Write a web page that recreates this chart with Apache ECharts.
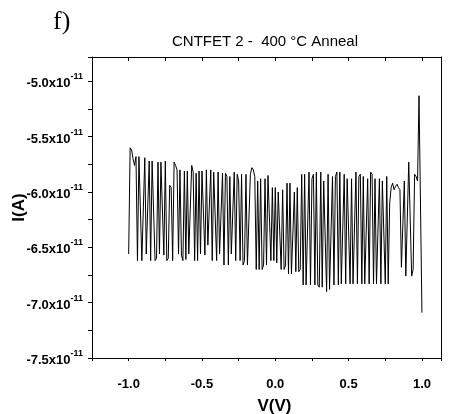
<!DOCTYPE html>
<html>
<head>
<meta charset="utf-8">
<script src="https://cdn.jsdelivr.net/npm/echarts@6/dist/echarts.min.js"></script>
<style>
  html, body { margin: 0; padding: 0; background: #fff; }
  #chart { width: 450px; height: 414px; }
</style>
</head>
<body>
<div id="chart"></div>
<script>
// Gate voltage sweep (V), 0.01 V steps
const voltage = [
  -1.00, -0.99, -0.98, -0.97, -0.96, -0.95, -0.94, -0.93, -0.92, -0.91,
  -0.90, -0.89, -0.88, -0.87, -0.86, -0.85, -0.84, -0.83, -0.82, -0.81,
  -0.80, -0.79, -0.78, -0.77, -0.76, -0.75, -0.74, -0.73, -0.72, -0.71,
  -0.70, -0.69, -0.68, -0.67, -0.66, -0.65, -0.64, -0.63, -0.62, -0.61,
  -0.60, -0.59, -0.58, -0.57, -0.56, -0.55, -0.54, -0.53, -0.52, -0.51,
  -0.50, -0.49, -0.48, -0.47, -0.46, -0.45, -0.44, -0.43, -0.42, -0.41,
  -0.40, -0.39, -0.38, -0.37, -0.36, -0.35, -0.34, -0.33, -0.32, -0.31,
  -0.30, -0.29, -0.28, -0.27, -0.26, -0.25, -0.24, -0.23, -0.22, -0.21,
  -0.20, -0.19, -0.18, -0.17, -0.16, -0.15, -0.14, -0.13, -0.12, -0.11,
  -0.10, -0.09, -0.08, -0.07, -0.06, -0.05, -0.04, -0.03, -0.02, -0.01,
   0.00,  0.01,  0.02,  0.03,  0.04,  0.05,  0.06,  0.07,  0.08,  0.09,
   0.10,  0.11,  0.12,  0.13,  0.14,  0.15,  0.16,  0.17,  0.18,  0.19,
   0.20,  0.21,  0.22,  0.23,  0.24,  0.25,  0.26,  0.27,  0.28,  0.29,
   0.30,  0.31,  0.32,  0.33,  0.34,  0.35,  0.36,  0.37,  0.38,  0.39,
   0.40,  0.41,  0.42,  0.43,  0.44,  0.45,  0.46,  0.47,  0.48,  0.49,
   0.50,  0.51,  0.52,  0.53,  0.54,  0.55,  0.56,  0.57,  0.58,  0.59,
   0.60,  0.61,  0.62,  0.63,  0.64,  0.65,  0.66,  0.67,  0.68,  0.69,
   0.70,  0.71,  0.72,  0.73,  0.74,  0.75,  0.76,  0.77,  0.78,  0.79,
   0.80,  0.81,  0.82,  0.83,  0.84,  0.85,  0.86,  0.87,  0.88,  0.89,
   0.90,  0.91,  0.92,  0.93,  0.94,  0.95,  0.96,  0.97,  0.98,  0.99,
   1.00
];

// Drain current, in units of 1e-11 A
const currentE11 = [
  -6.56, -5.60, -5.62, -5.70, -5.76, -5.68, -6.62, -5.68, -5.69, -6.62,
  -6.61, -5.69, -6.56, -6.57, -5.72, -6.62, -5.72, -5.73, -6.62, -6.60,
  -5.73, -6.56, -5.73, -5.72, -6.57, -5.72, -6.62, -6.60, -5.94, -5.96,
  -6.62, -5.73, -5.76, -5.80, -6.56, -5.80, -6.57, -6.62, -5.81, -6.61,
  -5.81, -6.56, -6.56, -5.76, -5.82, -6.62, -5.83, -6.62, -5.81, -6.56,
  -5.81, -5.81, -6.57, -5.80, -6.48, -6.47, -5.80, -6.62, -5.82, -5.82,
  -6.62, -5.82, -6.56, -6.56, -5.83, -6.66, -5.83, -5.86, -6.66, -5.86,
  -6.56, -6.56, -5.82, -6.62, -5.84, -5.90, -6.62, -5.84, -6.66, -6.62,
  -5.84, -6.66, -6.66, -5.84, -5.78, -5.80, -5.86, -6.70, -5.90, -6.70,
  -5.88, -6.70, -6.66, -5.88, -6.66, -5.85, -5.85, -6.62, -5.96, -6.62,
  -5.96, -6.64, -6.00, -6.00, -6.70, -5.98, -6.70, -6.66, -5.92, -6.74,
  -5.92, -6.74, -6.74, -6.00, -6.72, -5.96, -6.72, -6.70, -5.84, -6.84,
  -5.84, -6.84, -6.84, -5.82, -6.84, -5.88, -5.84, -6.84, -5.82, -6.84,
  -6.86, -5.82, -6.86, -5.90, -5.90, -6.90, -5.84, -6.88, -6.88, -5.86,
  -6.84, -5.86, -5.82, -6.84, -5.82, -6.83, -6.83, -5.84, -6.83, -5.88,
  -5.88, -6.83, -5.88, -6.83, -6.83, -5.82, -6.83, -5.86, -5.84, -6.83,
  -5.86, -6.83, -6.83, -5.88, -6.83, -5.82, -5.84, -6.83, -5.88, -6.83,
  -6.83, -5.88, -6.83, -5.90, -5.90, -6.83, -5.86, -6.83, -6.10, -5.96,
  -5.92, -5.98, -5.95, -5.93, -5.96, -5.98, -6.68, -6.68, -5.90, -6.76,
  -6.76, -5.73, -5.73, -6.76, -6.70, -5.84, -5.86, -5.90, -5.13, -6.10,
  -7.09
];

// Axis ranges and labelled ticks
const xRange = [-1.25, 1.13];
const yRange = [-7.5, -4.78];
const xTickLabels = [-1.0, -0.5, 0.0, 0.5, 1.0];
const yTickLabels = [-7.5, -7.0, -6.5, -6.0, -5.5, -5.0];

const isLabelled = (list, v) => list.some(t => Math.abs(t - v) < 1e-6);

const chart = echarts.init(document.getElementById('chart'), null, { renderer: 'canvas' });

const black = '#000';
const sans = 'Liberation Sans, Arial, sans-serif';

const frameAxis = {
  axisLine: { show: true, onZero: false, lineStyle: { color: black, width: 1 } },
  axisLabel: { show: false },
  splitLine: { show: false }
};

chart.setOption({
  animation: false,
  backgroundColor: '#fff',
  grid: { left: 92, right: 9, top: 57, bottom: 56, show: false, containLabel: false, outerBoundsMode: 'none' },
  graphic: [
    {
      type: 'text', left: 53, top: 9,
      style: { text: 'f)', fontFamily: 'Liberation Serif, Times New Roman, serif', fontSize: 26, fill: black }
    },
    {
      type: 'text', x: 265, y: 42,
      style: {
        text: 'CNTFET 2 -  400 °C Anneal', fontFamily: sans, fontSize: 15,
        fill: black, align: 'center', verticalAlign: 'middle'
      }
    }
  ],
  xAxis: [
    {
      type: 'value', position: 'bottom', min: xRange[0], max: xRange[1], interval: 0.25,
      name: 'V(V)', nameLocation: 'middle', nameGap: 40, nameMoveOverlap: false,
      nameTextStyle: { fontFamily: sans, fontSize: 17, fontWeight: 'bold', color: black, padding: [0, 0, 0, 16] },
      axisLine: { show: true, onZero: false, lineStyle: { color: black, width: 1 } },
      axisTick: { show: true, inside: false, length: 3, lineStyle: { color: black } },
      axisLabel: {
        margin: 20, fontFamily: sans, fontSize: 13, fontWeight: 'bold', color: black,
        showMinLabel: true, showMaxLabel: true,
        formatter: v => isLabelled(xTickLabels, v) ? v.toFixed(1) : ''
      },
      splitLine: { show: false }
    },
    Object.assign({
      type: 'value', position: 'top', min: xRange[0], max: xRange[1], interval: 0.25,
      axisTick: { show: true, inside: true, length: 4, lineStyle: { color: black } }
    }, frameAxis)
  ],
  yAxis: [
    {
      type: 'value', position: 'left', min: yRange[0], max: yRange[1], interval: 0.25,
      name: 'I(A)', nameLocation: 'middle', nameGap: 64, nameRotate: 90, nameMoveOverlap: false,
      nameTextStyle: { fontFamily: sans, fontSize: 17, fontWeight: 'bold', color: black },
      axisLine: { show: true, onZero: false, lineStyle: { color: black, width: 1 } },
      axisTick: { show: true, inside: false, length: 4, lineStyle: { color: black } },
      axisLabel: {
        margin: 9, color: black, align: 'right',
        formatter: v => isLabelled(yTickLabels, v) ? '{b|' + v.toFixed(1) + 'x10}{s|-11}' : '',
        rich: {
          b: { fontFamily: sans, fontSize: 13, fontWeight: 'bold', color: black, lineHeight: 18, verticalAlign: 'bottom' },
          s: { fontFamily: sans, fontSize: 9, fontWeight: 'bold', color: black, lineHeight: 10, verticalAlign: 'top' }
        }
      },
      splitLine: { show: false }
    },
    Object.assign({
      type: 'value', position: 'right', min: yRange[0], max: yRange[1], interval: 0.25,
      axisTick: { show: false }
    }, frameAxis)
  ],
  series: [
    {
      type: 'line',
      xAxisIndex: 0, yAxisIndex: 0,
      data: voltage.map((v, i) => [v, currentE11[i]]),
      showSymbol: false,
      lineStyle: { color: black, width: 1 },
      clip: true
    }
  ]
});
</script>
</body>
</html>
